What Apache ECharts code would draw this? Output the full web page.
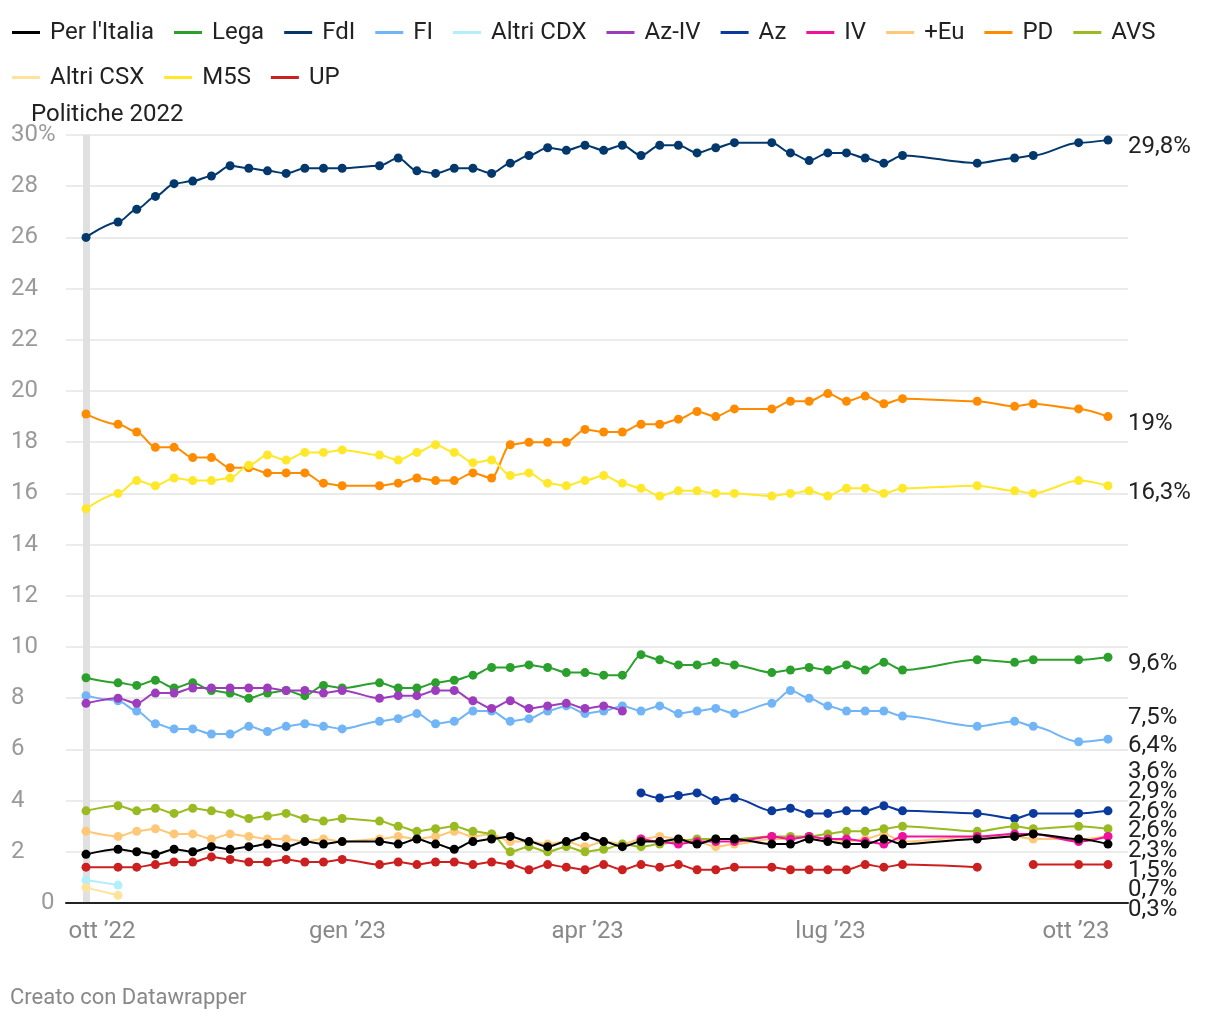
<!DOCTYPE html>
<html><head><meta charset="utf-8">
<script src="https://cdn.jsdelivr.net/npm/echarts@6/dist/echarts.min.js"></script>
<style>html,body{margin:0;padding:0;background:#fff}#c{width:1220px;height:1020px}</style>
</head><body><div id="c"></div>
<script>
// ---- DATA ----
const dates = ['2022-09-25','2022-10-07','2022-10-14','2022-10-21','2022-10-28','2022-11-04','2022-11-11','2022-11-18','2022-11-25','2022-12-02','2022-12-09','2022-12-16','2022-12-23','2022-12-30','2023-01-13','2023-01-20','2023-01-27','2023-02-03','2023-02-10','2023-02-17','2023-02-24','2023-03-03','2023-03-10','2023-03-17','2023-03-24','2023-03-31','2023-04-07','2023-04-14','2023-04-21','2023-04-28','2023-05-05','2023-05-12','2023-05-19','2023-05-26','2023-06-09','2023-06-16','2023-06-23','2023-06-30','2023-07-07','2023-07-14','2023-07-21','2023-07-28','2023-08-25','2023-09-08','2023-09-15','2023-10-02','2023-10-13'];
const perItalia = [1.9,2.1,2.0,1.9,2.1,2.0,2.2,2.1,2.2,2.3,2.2,2.4,2.3,2.4,2.4,2.3,2.5,2.3,2.1,2.4,2.5,2.6,2.4,2.2,2.4,2.6,2.4,2.2,2.4,2.4,2.5,2.3,2.5,2.5,2.3,2.3,2.5,2.4,2.3,2.3,2.5,2.3,2.5,2.6,2.7,2.5,2.3];
const lega = [8.8,8.6,8.5,8.7,8.4,8.6,8.3,8.2,8.0,8.2,8.3,8.1,8.5,8.4,8.6,8.4,8.4,8.6,8.7,8.9,9.2,9.2,9.3,9.2,9.0,9.0,8.9,8.9,9.7,9.5,9.3,9.3,9.4,9.3,9.0,9.1,9.2,9.1,9.3,9.1,9.4,9.1,9.5,9.4,9.5,9.5,9.6];
const fdi = [26.0,26.6,27.1,27.6,28.1,28.2,28.4,28.8,28.7,28.6,28.5,28.7,28.7,28.7,28.8,29.1,28.6,28.5,28.7,28.7,28.5,28.9,29.2,29.5,29.4,29.6,29.4,29.6,29.2,29.6,29.6,29.3,29.5,29.7,29.7,29.3,29.0,29.3,29.3,29.1,28.9,29.2,28.9,29.1,29.2,29.7,29.8];
const fi = [8.1,7.9,7.5,7.0,6.8,6.8,6.6,6.6,6.9,6.7,6.9,7.0,6.9,6.8,7.1,7.2,7.4,7.0,7.1,7.5,7.5,7.1,7.2,7.5,7.7,7.4,7.5,7.7,7.5,7.7,7.4,7.5,7.6,7.4,7.8,8.3,8.0,7.7,7.5,7.5,7.5,7.3,6.9,7.1,6.9,6.3,6.4];
const altriCdx = [0.9,0.7];
const azIv = [7.8,8.0,7.8,8.2,8.2,8.4,8.4,8.4,8.4,8.4,8.3,8.3,8.2,8.3,8.0,8.1,8.1,8.3,8.3,7.9,7.6,7.9,7.6,7.7,7.8,7.6,7.7,7.5];
const azStart = 28;
const az = [4.3,4.1,4.2,4.3,4.0,4.1,3.6,3.7,3.5,3.5,3.6,3.6,3.8,3.6,3.5,3.3,3.5,3.5,3.6];
const ivStart = 28;
const iv = [2.5,2.4,2.3,2.4,2.4,2.4,2.6,2.5,2.6,2.5,2.5,2.4,2.3,2.6,2.6,2.7,2.7,2.4,2.6];
const piuEu = [2.8,2.6,2.8,2.9,2.7,2.7,2.5,2.7,2.6,2.5,2.5,2.4,2.5,2.4,2.5,2.6,2.5,2.6,2.8,2.6,2.7,2.4,2.4,2.3,2.4,2.2,2.4,2.3,2.5,2.6,2.5,2.4,2.2,2.3,2.5,2.5,2.6,2.5,2.4,2.5,2.7,2.4,2.6,2.6,2.5,2.5,2.6];
const pd = [19.1,18.7,18.4,17.8,17.8,17.4,17.4,17.0,17.0,16.8,16.8,16.8,16.4,16.3,16.3,16.4,16.6,16.5,16.5,16.8,16.6,17.9,18.0,18.0,18.0,18.5,18.4,18.4,18.7,18.7,18.9,19.2,19.0,19.3,19.3,19.6,19.6,19.9,19.6,19.8,19.5,19.7,19.6,19.4,19.5,19.3,19.0];
const avs = [3.6,3.8,3.6,3.7,3.5,3.7,3.6,3.5,3.3,3.4,3.5,3.3,3.2,3.3,3.2,3.0,2.8,2.9,3.0,2.8,2.7,2.0,2.2,2.0,2.2,2.0,2.1,2.3,2.2,2.3,2.4,2.5,2.5,2.5,2.6,2.6,2.6,2.7,2.8,2.8,2.9,3.0,2.8,3.0,2.9,3.0,2.9];
const altriCsx = [0.6,0.3];
const m5s = [15.4,16.0,16.5,16.3,16.6,16.5,16.5,16.6,17.1,17.5,17.3,17.6,17.6,17.7,17.5,17.3,17.6,17.9,17.6,17.2,17.3,16.7,16.8,16.4,16.3,16.5,16.7,16.4,16.2,15.9,16.1,16.1,16.0,16.0,15.9,16.0,16.1,15.9,16.2,16.2,16.0,16.2,16.3,16.1,16.0,16.5,16.3];
const up = [1.4,1.4,1.4,1.5,1.6,1.6,1.8,1.7,1.6,1.6,1.7,1.6,1.6,1.7,1.5,1.6,1.5,1.6,1.6,1.5,1.6,1.5,1.3,1.5,1.4,1.3,1.5,1.3,1.5,1.4,1.5,1.3,1.3,1.4,1.4,1.3,1.3,1.3,1.3,1.5,1.4,1.5,1.4,null,1.5,1.5,1.5];
const electionDate = '2022-09-25';
const xTickDates = ['2022-10-01','2023-01-01','2023-04-01','2023-07-01','2023-10-01'];
const monthNames = ['gen','feb','mar','apr','mag','giu','lug','ago','set','ott','nov','dic'];

const seriesDefs = [
  {name:"Per l'Italia", color:'#000000', values: perItalia, start:0, z:4},
  {name:'Lega', color:'#2ca02c', values: lega, start:0},
  {name:'FdI', color:'#03386d', values: fdi, start:0},
  {name:'FI', color:'#72b5f7', values: fi, start:0},
  {name:'Altri CDX', color:'#b3effb', values: altriCdx, start:0},
  {name:'Az-IV', color:'#9d3dbd', values: azIv, start:0},
  {name:'Az', color:'#0a3a9c', values: az, start:azStart},
  {name:'IV', color:'#f0119d', values: iv, start:ivStart, z:3},
  {name:'+Eu', color:'#ffc878', values: piuEu, start:0},
  {name:'PD', color:'#ff8c00', values: pd, start:0},
  {name:'AVS', color:'#9aba22', values: avs, start:0},
  {name:'Altri CSX', color:'#ffe39c', values: altriCsx, start:0},
  {name:'M5S', color:'#ffe82a', values: m5s, start:0},
  {name:'UP', color:'#cc2020', values: up, start:0}
];

// ---- HELPERS ----
function ts(s){ const p = s.split('-').map(Number); return new Date(p[0], p[1]-1, p[2]).getTime(); }
function fmtPct(v){ return String(v).replace('.', ',') + '%'; }
function lastValue(arr){ for (let i = arr.length - 1; i >= 0; i--) if (arr[i] != null) return arr[i]; return null; }

const FONT = 'Roboto, "Noto Sans", sans-serif';
const LABEL_X = 1128;
const labelY = {};   // seriesIndex -> y (filled after first layout pass)

function endLabelLayout(p){
  const o = {x: LABEL_X};
  if (labelY[p.seriesIndex] != null) o.y = labelY[p.seriesIndex];
  return o;
}

const series = seriesDefs.map(d => ({
  name: d.name,
  type: 'line',
  z: d.z || 2,
  data: d.values.map((v, i) => [ts(dates[d.start + i]), v]),
  symbol: 'circle',
  symbolSize: 9,
  showSymbol: true,
  smooth: 0.3,
  smoothMonotone: 'x',
  connectNulls: false,
  lineStyle: {width: 2, color: d.color},
  itemStyle: {color: d.color},
  emphasis: {disabled: true},
  endLabel: {
    show: true,
    formatter: p => fmtPct(p.value[1]),
    fontFamily: FONT,
    fontSize: 24,
    color: '#222',
    distance: 20
  },
  labelLayout: endLabelLayout
}));

// election marker (no legend entry)
series.unshift({
  name: 'election',
  type: 'line',
  data: [],
  z: 1,
  markLine: {
    silent: true,
    z: 0,
    symbol: ['none','none'],
    label: {show: false},
    lineStyle: {color: '#e0e0e0', width: 7, type: 'solid'},
    data: [{xAxis: ts(electionDate)}]
  }
});

const option = {
  animation: false,
  backgroundColor: '#ffffff',
  textStyle: {fontFamily: FONT},
  title: [
    {text: 'Politiche 2022', left: 31, top: 103, padding: 0, textStyle: {fontFamily: FONT, fontSize: 24, fontWeight: 'normal', color: '#222'}},
    {text: 'Creato con Datawrapper', left: 10, top: 987, padding: 0, textStyle: {fontFamily: FONT, fontSize: 22, fontWeight: 'normal', color: '#888'}}
  ],
  legend: {
    data: seriesDefs.map(d => d.name),
    left: 12, right: 12, top: 20, padding: 0,
    icon: 'rect', itemWidth: 28, itemHeight: 3, itemGap: 20,
    selectedMode: false,
    textStyle: {fontFamily: FONT, fontSize: 24, color: '#222', lineHeight: 25, padding: [0,0,0,5]}
  },
  grid: {left: 66, right: 92, top: 135, bottom: 117, containLabel: false},
  xAxis: {
    type: 'value',
    min: new Date(2022, 8, 17, 12).getTime(),
    max: new Date(2023, 9, 20, 12).getTime(),
    axisLine: {show: true, onZero: true, lineStyle: {color: '#222', width: 2}},
    axisTick: {show: false},
    splitLine: {show: false},
    axisLabel: {
      customValues: xTickDates.map(ts),
      formatter: function(v){ const d = new Date(v); return monthNames[d.getMonth()] + ' \u2019' + String(d.getFullYear()).slice(2); },
      fontFamily: FONT, fontSize: 24, color: '#888', margin: 17
    }
  },
  yAxis: {
    type: 'value', min: 0, max: 30, interval: 2,
    axisLine: {show: false}, axisTick: {show: false},
    splitLine: {show: true, lineStyle: {color: '#e4e4e4', width: 1.5}},
    axisLabel: {
      align: 'left', margin: 55,
      fontFamily: FONT, fontSize: 24, color: '#9a9a9a',
      formatter: function(v){ if (v === 30) return '30%'; if (v === 0) return '{z|0}'; return String(v); },
      rich: {z: {fontFamily: FONT, fontSize: 24, color: '#9a9a9a', padding: [0,0,0,30]}}
    }
  },
  series: series
};

const chart = echarts.init(document.getElementById('c'), null, {renderer: 'canvas'});
chart.setOption(option);

// ---- end-label collision layout (positions from the chart's own y scale) ----
(function(){
  const S = 19.7, OFF = 7, MINY = 120, MAXY = 910;
  const items = seriesDefs.map((d, i) => {
    const v = lastValue(d.values);
    const py = chart.convertToPixel({yAxisIndex: 0}, v);
    return {idx: i + 1, v: v, d: py + OFF};
  }).sort((a, b) => a.d - b.d || b.v - a.v);
  let clusters = items.map(it => ({m: [it], top: Math.min(Math.max(it.d, MINY), MAXY)}));
  function fit(c){
    let s = 0; c.m.forEach((it, k) => { s += it.d - k * S; });
    let top = s / c.m.length;
    top = Math.max(top, MINY);
    top = Math.min(top, MAXY - (c.m.length - 1) * S);
    c.top = top;
  }
  let merged = true;
  while (merged) {
    merged = false;
    for (let i = 0; i < clusters.length - 1; i++) {
      const a = clusters[i], b = clusters[i + 1];
      if (a.top + a.m.length * S > b.top) {
        const c = {m: a.m.concat(b.m), top: 0};
        fit(c);
        clusters.splice(i, 2, c);
        merged = true;
        break;
      }
    }
  }
  clusters.forEach(c => c.m.forEach((it, k) => { labelY[it.idx] = c.top + k * S; }));
  chart.setOption(option, true);
})();
</script></body></html>
